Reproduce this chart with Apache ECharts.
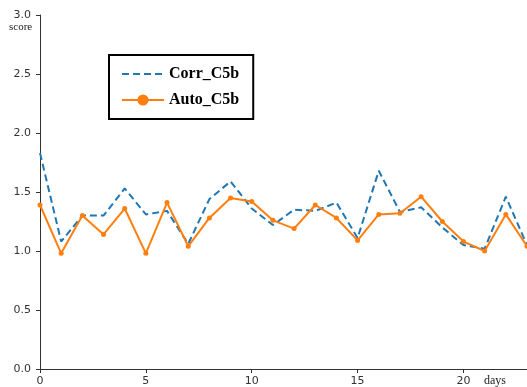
<!DOCTYPE html>
<html>
<head>
<meta charset="utf-8">
<script src="https://cdn.jsdelivr.net/npm/echarts@6/dist/echarts.min.js"></script>
<style>
  html, body { margin: 0; padding: 0; background: #fff; }
  #chart { width: 527px; height: 387px; }
</style>
</head>
<body>
<div id="chart"></div>
<script>
// Daily scores for the C5b channel, two estimators
const days = [0,1,2,3,4,5,6,7,8,9,10,11,12,13,14,15,16,17,18,19,20,21,22,23];
const corrC5b = [1.83,1.08,1.30,1.30,1.53,1.31,1.34,1.06,1.44,1.59,1.36,1.22,1.35,1.34,1.41,1.11,1.68,1.33,1.37,1.20,1.05,1.02,1.46,1.05];
const autoC5b = [1.39,0.98,1.30,1.14,1.36,0.98,1.41,1.04,1.28,1.45,1.42,1.26,1.19,1.39,1.28,1.09,1.31,1.32,1.46,1.25,1.08,1.00,1.31,1.04];
const xTicks = [0,5,10,15,20];
const yTicks = [0.0,0.5,1.0,1.5,2.0,2.5,3.0];

const axisColor = '#333';
const tickFont = { color: '#333', fontSize: 11, fontFamily: 'DejaVu Sans' };

const chart = echarts.init(document.getElementById('chart'), null, { renderer: 'canvas' });
chart.setOption({
  animation: false,
  backgroundColor: '#fff',
  grid: { left: 40, top: 15, right: 0, bottom: 18, containLabel: false },
  legend: {
    orient: 'vertical',
    left: 109, top: 55,
    borderColor: '#000', borderWidth: 2,
    padding: [11, 14, 11, 12],
    itemGap: 10,
    itemWidth: 42, itemHeight: 14,
    textStyle: { fontFamily: 'Liberation Serif', fontWeight: 'bold', fontSize: 16, color: '#000' },
    data: [
      { name: 'Corr_C5b', itemStyle: { opacity: 0 } },
      { name: 'Auto_C5b' }
    ]
  },
  xAxis: [{
    type: 'value', min: 0, max: 23, interval: 5,
    axisLine: { show: true, onZero: false, lineStyle: { color: axisColor, width: 1 } },
    axisTick: { show: true, length: 4, lineStyle: { color: axisColor } },
    axisLabel: Object.assign({ margin: 7, showMaxLabel: false,
      formatter: v => xTicks.indexOf(v) >= 0 ? String(v) : '' }, tickFont),
    splitLine: { show: false }
  }, {
    type: 'value', position: 'top', min: 0, max: 23,
    axisLine: { show: true, lineStyle: { color: axisColor, width: 1 } },
    axisTick: { show: false }, axisLabel: { show: false }, splitLine: { show: false }
  }],
  yAxis: {
    type: 'value', min: 0, max: 3, interval: 0.5,
    axisLine: { show: true, lineStyle: { color: axisColor, width: 1 } },
    axisTick: { show: true, length: 4, lineStyle: { color: axisColor } },
    axisLabel: Object.assign({ margin: 9,
      formatter: v => yTicks.indexOf(v) >= 0 ? v.toFixed(1) : '' }, tickFont),
    splitLine: { show: false }
  },
  graphic: [
    { type: 'text', left: 9, top: 22, style: { text: 'score', fontFamily: 'Liberation Serif', fontSize: 11, fill: '#222' } },
    { type: 'text', left: 484, top: 375, style: { text: 'days', fontFamily: 'Liberation Serif', fontSize: 12, fill: '#222' } }
  ],
  series: [{
    name: 'Corr_C5b', type: 'line',
    data: days.map((d, i) => [d, corrC5b[i]]),
    showSymbol: false, symbol: 'none',
    lineStyle: { color: '#1f77b4', width: 2, type: [7, 4] },
    itemStyle: { color: '#1f77b4' },
    z: 2
  }, {
    name: 'Auto_C5b', type: 'line',
    data: days.map((d, i) => [d, autoC5b[i]]),
    symbol: 'circle', symbolSize: 5,
    lineStyle: { color: '#ff7f0e', width: 2 },
    itemStyle: { color: '#ff7f0e' },
    z: 3
  }]
});
</script>
</body>
</html>
